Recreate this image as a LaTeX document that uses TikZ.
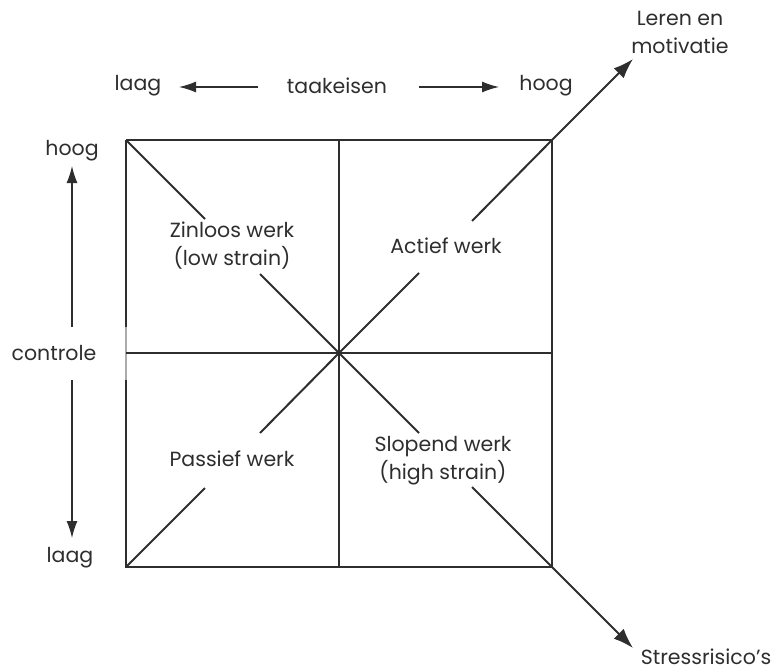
\documentclass[tikz,border=0pt]{standalone}
\usepackage{fontspec}
\setmainfont{Poppins}
\usetikzlibrary{arrows.meta}
\definecolor{ink}{HTML}{2E2E2E}
\begin{document}
\begin{tikzpicture}[x=1pt,y=-1pt,
  lbl/.style={text=ink,font=\fontsize{20.5}{28}\selectfont,align=center,inner sep=0pt},
  frame/.style={draw=ink,line width=1.3pt},
  diag/.style={draw=ink,line width=2pt},
  bigarrow/.style={draw=ink,line width=2pt,-{Latex[length=20pt,width=14pt]}},
  axisarrow/.style={draw=ink,line width=1.3pt,-{Latex[length=17pt,width=11pt]}}]
\useasboundingbox (0,0) rectangle (775,671);

% corners and centre of the grid
\coordinate (tl) at (126,140);
\coordinate (tr) at (552,140);
\coordinate (bl) at (126,567);
\coordinate (br) at (552,567);
\coordinate (c)  at (339,353);
\coordinate (tm) at (339,140);
\coordinate (bm) at (339,567);
\coordinate (lm) at (126,353);
\coordinate (rm) at (552,353);

% outer square and dividers
\draw[frame] (tl) -- (tr) -- (br) -- (bl) -- (126,380);
\draw[frame] (tl) -- (126,327);
\draw[draw=ink!40,line width=1.3pt] (126,327) -- (126,380);
\draw[frame] (tm) -- (bm);
\draw[frame] (lm) -- (rm);

% diagonals, interrupted around the quadrant labels
\coordinate (d1a) at (205,219);
\coordinate (d1b) at (260,274);
\coordinate (d2a) at (205,488);
\coordinate (d2b) at (260,433);
\coordinate (d3a) at (419,273);
\coordinate (d3b) at (472,221);
\coordinate (d4a) at (419,433);
\coordinate (d4b) at (472,487);
\draw[diag] (tl) -- (d1a);
\draw[diag] (d1b) -- (c);
\draw[diag] (bl) -- (d2a);
\draw[diag] (d2b) -- (c);
\draw[diag] (c) -- (d3a);
\draw[diag] (c) -- (d4a);
\draw[diag] (d3b) -- (tr);
\draw[diag] (d4b) -- (br);

% outcome arrows
\coordinate (tipup) at (633,59);
\coordinate (tipdn) at (633,648);
\draw[bigarrow] (tr) -- (tipup);
\draw[bigarrow] (br) -- (tipdn);
\node[lbl] (leren) at (680,32) {Leren en\\motivatie};
\node[lbl] (stress) at (706,657) {Stressrisico's};

% demand axis
\node[lbl] (dlow) at (138,86) {laag};
\node[lbl] (demand) at (337,86) {taakeisen};
\node[lbl] (dhigh) at (546,86) {hoog};
\coordinate (dl0) at (258,87);
\coordinate (dl1) at (179,87);
\coordinate (dh0) at (419,87);
\coordinate (dh1) at (499,87);
\draw[axisarrow] (dl0) -- (dl1);
\draw[axisarrow] (dh0) -- (dh1);

% control axis
\node[lbl] (chigh) at (72,151) {hoog};
\node[lbl] (control) at (54,353) {controle};
\node[lbl] (clow) at (70,558) {laag};
\coordinate (cu0) at (72,327);
\coordinate (cu1) at (72,166);
\coordinate (cd0) at (72,380);
\coordinate (cd1) at (72,538);
\draw[axisarrow] (cu0) -- (cu1);
\draw[axisarrow] (cd0) -- (cd1);

% quadrant labels
\node[lbl] (zinloos) at (232,246) {Zinloos werk\\(low strain)};
\node[lbl] (actief) at (446,246) {Actief werk};
\node[lbl] (passief) at (232,459) {Passief werk};
\node[lbl] (slopend) at (443,461) {Slopend werk\\(high strain)};
\end{tikzpicture}
\end{document}
